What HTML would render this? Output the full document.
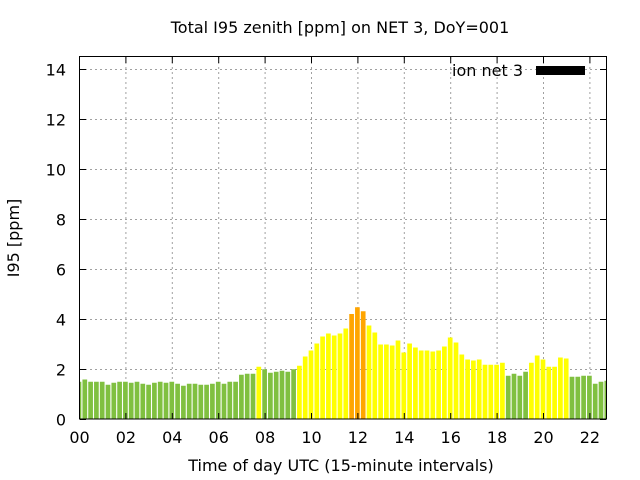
<!DOCTYPE html>
<html><head><meta charset="utf-8"><style>
html,body{margin:0;padding:0;background:#fff;width:640px;height:480px;overflow:hidden}
text{font-family:"DejaVu Sans","Liberation Sans",sans-serif;fill:#000}
</style></head><body>
<svg id="s" width="640" height="480" xmlns="http://www.w3.org/2000/svg">
<rect width="640" height="480" fill="#fff"/>
<g id="grid" stroke="#a0a0a0" stroke-width="1" stroke-dasharray="2,3"></g>
<g id="bars"></g>
<rect x="79.5" y="56.5" width="527" height="362.5" fill="none" stroke="#000" stroke-width="1"/>
<g id="ticks" stroke="#000" stroke-width="1"></g>
<g id="labels" font-size="16"></g>
<text x="340" y="33" font-size="16" text-anchor="middle">Total I95 zenith [ppm] on NET 3, DoY=001</text>
<text x="341" y="471" font-size="16" text-anchor="middle">Time of day UTC (15-minute intervals)</text>
<text x="19" y="238" font-size="16" text-anchor="middle" transform="rotate(-90 19 238)">I95 [ppm]</text>
<text x="523" y="76" font-size="16" text-anchor="end">ion net 3</text>
<rect x="536" y="66" width="49" height="9" fill="#000"/>
</svg>
<script>
var v=[1.49,1.58,1.49,1.49,1.49,1.37,1.45,1.49,1.49,1.45,1.49,1.41,1.37,1.45,1.49,1.45,1.49,1.41,1.33,1.41,1.41,1.37,1.37,1.41,1.49,1.41,1.49,1.49,1.77,1.81,1.81,2.09,1.99,1.85,1.89,1.93,1.89,1.99,2.13,2.5,2.74,3.02,3.30,3.42,3.34,3.42,3.62,4.2,4.47,4.31,3.74,3.46,2.98,2.98,2.94,3.14,2.66,3.02,2.86,2.74,2.74,2.70,2.74,2.90,3.26,3.06,2.58,2.38,2.34,2.38,2.17,2.17,2.17,2.25,1.73,1.81,1.73,1.89,2.25,2.54,2.38,2.09,2.09,2.46,2.42,1.69,1.69,1.73,1.73,1.41,1.49,1.53];
var NS="http://www.w3.org/2000/svg";
function el(p,t,a){var e=document.createElementNS(NS,t);for(var k in a)e.setAttribute(k,a[k]);document.getElementById(p).appendChild(e);return e;}
var x0=79,hx=23.2,y0=419,py=25;
for(var i=0;i<v.length;i++){var c=x0+i*5.8,l=Math.max(c-2.35,80),r=Math.min(c+2.35,606);
var col=v[i]>4?"#ffa500":(v[i]>=2.05?"#ffff00":"#80c040");
el("bars","rect",{x:l,y:y0-v[i]*py,width:r-l,height:v[i]*py,fill:col});}
for(var h=0;h<=22;h+=2){var x=x0+h*hx+0.5;
if(h>0)el("grid","line",{x1:x,y1:57,x2:x,y2:419});
el("ticks","line",{x1:x,y1:419,x2:x,y2:413});el("ticks","line",{x1:x,y1:57,x2:x,y2:63});
var t=el("labels","text",{x:x,y:443,"text-anchor":"middle"});t.textContent=(h<10?"0":"")+h;}
for(var y=0;y<=14;y+=2){var yy=y0-y*py+0.5;
if(y>0)el("grid","line",{x1:80,y1:yy,x2:606,y2:yy});
el("ticks","line",{x1:80,y1:yy,x2:86,y2:yy});el("ticks","line",{x1:600,y1:yy,x2:606,y2:yy});
var t=el("labels","text",{x:66,y:yy+6,"text-anchor":"end"});t.textContent=y;}
</script>
</body></html>
